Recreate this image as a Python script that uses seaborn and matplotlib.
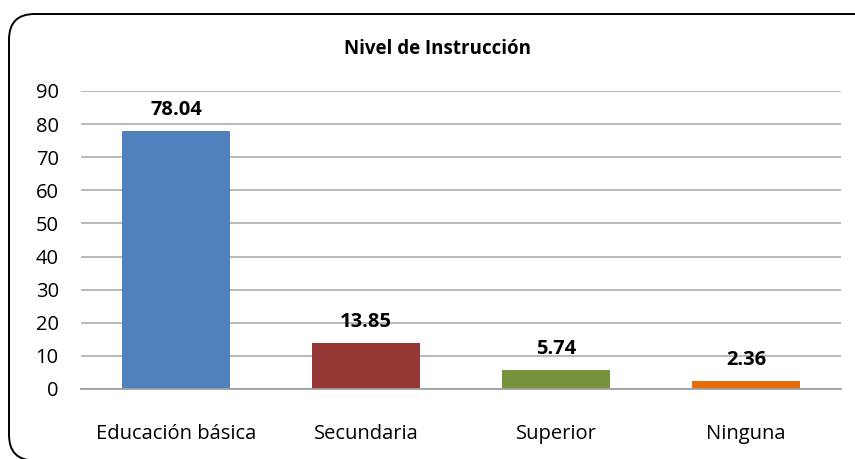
import matplotlib
matplotlib.use("Agg")
import matplotlib.pyplot as plt
import seaborn as sns
import pandas as pd
from matplotlib.patches import FancyBboxPatch

categories = ["Educación básica", "Secundaria", "Superior", "Ninguna"]
values = [78.04, 13.85, 5.74, 2.36]
labels = ["78.04", "13.85", "5.74", "2.36"]
colors = ["#4F81BD", "#953735", "#77933C", "#E46C0A"]
yticks = [0, 10, 20, 30, 40, 50, 60, 70, 80, 90]
title = "Nivel de Instrucción"

sns.set_style("white")
plt.rcParams["font.family"] = ["Open Sans", "DejaVu Sans"]
plt.rcParams["text.color"] = "black"

df = pd.DataFrame({"cat": categories, "val": values})

fig = plt.figure(figsize=(8.55, 4.59), dpi=100)
ax = fig.add_axes([81/855, 1-389/459, 760/855, 298/459])

sns.barplot(data=df, x="cat", y="val", hue="cat", palette=colors,
            width=0.57, legend=False, ax=ax, saturation=1, linewidth=0)

ax.set_ylim(0, 90)
ax.set_yticks(yticks)
ax.set_xlim(-0.5, 3.5)
ax.set_xlabel("")
ax.set_ylabel("")
ax.yaxis.grid(True, color="#A6A6A6", linewidth=1.1)
ax.set_axisbelow(True)
for s in ["top", "right", "left"]:
    ax.spines[s].set_visible(False)
ax.spines["bottom"].set_color("#A0A0A0")
ax.spines["bottom"].set_linewidth(1.3)
ax.tick_params(axis="y", length=0, pad=16, labelsize=14.5, colors="#000000")
ax.tick_params(axis="x", length=0, pad=25, labelsize=14.5, colors="#000000")

for i, (v, t) in enumerate(zip(values, labels)):
    ax.annotate(t, (i, v), xytext=(0, 15), textcoords="offset points",
                ha="center", va="center", fontsize=14.5, fontweight="bold",
                color="black")

fig.text(437/855, 1-49/459, title, ha="center", va="center",
         fontsize=13.5, fontweight="bold", color="black")

border = FancyBboxPatch((9/855, 1-460.5/459), 872/855, 446.5/459,
                        boxstyle="round,pad=0,rounding_size=0.03",
                        transform=fig.transFigure, facecolor="none",
                        edgecolor="black", linewidth=1.4,
                        mutation_aspect=855/459, clip_on=False)
fig.patches.append(border)

fig.savefig("out.png", dpi=100)
